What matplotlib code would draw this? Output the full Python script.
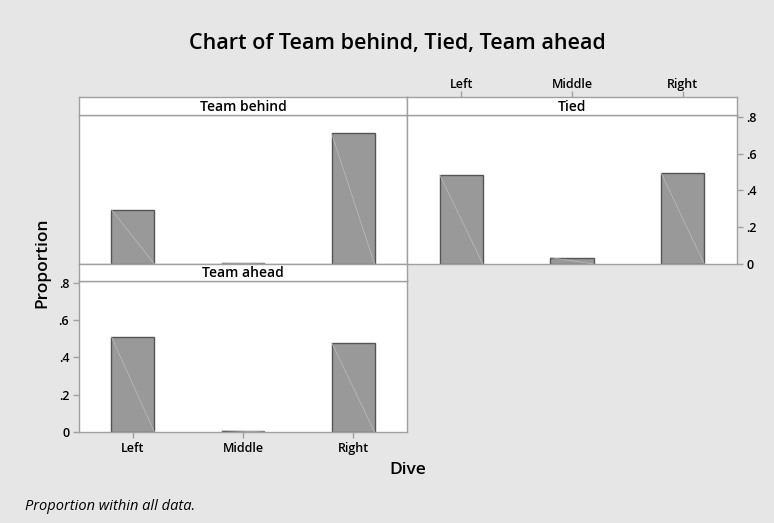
import numpy as np
import matplotlib.pyplot as plt

# Daten
categorias = ["Left", "Middle", "Right"]
paineis = ["Team behind", "Tied", "Team ahead"]
prop_behind = [0.295, 0.005, 0.71]
prop_tied = [0.485, 0.035, 0.495]
prop_ahead = [0.51, 0.008, 0.48]
yticks = [0, 0.2, 0.4, 0.6, 0.8]
ytick_labels = ["0", ".2", ".4", ".6", ".8"]

plt.rcParams['font.family'] = ['Open Sans', 'DejaVu Sans']

fundo = "#e6e6e6"
borda = "#a0a0a0"
cor_barra = "#999999"
cor_aresta = "#555555"

W, H = 774, 523
fig = plt.figure(figsize=(W / 100, H / 100), dpi=100, facecolor=fundo)

XLIM = (0.51, 3.49)


def caixa(x0, y0, x1, y1):
    # pixel -> fração da figura
    return [x0 / W, 1 - y1 / H, (x1 - x0) / W, (y1 - y0) / H]


def estilo_ticks(ax, pad=3):
    ax.tick_params(colors=borda, labelcolor="black", labelsize=9, length=4,
                   width=1.0, pad=pad)
    for lab in ax.get_xticklabels() + ax.get_yticklabels():
        lab.set_fontweight("semibold")


def painel(pos_plot, pos_strip, valores, titulo):
    ax = fig.add_axes(caixa(*pos_plot))
    x = np.arange(1, len(categorias) + 1)
    largura = 0.39
    ax.bar(x, valores, width=largura, color=cor_barra, edgecolor=cor_aresta,
           linewidth=1.0, zorder=2)
    # diagonal clara típica do Minitab
    for xi, v in zip(x, valores):
        ax.plot([xi - largura / 2, xi + largura / 2], [v, 0], color="#bdbdbd",
                linewidth=0.5, zorder=3)
    ax.set_xlim(*XLIM)
    ax.set_ylim(0, 0.81)
    ax.set_facecolor("white")
    for s in ax.spines.values():
        s.set_color(borda)
        s.set_linewidth(1.0)
    ax.set_xticks(x)
    ax.set_xticklabels(categorias)
    ax.set_yticks(yticks)
    ax.set_yticklabels(ytick_labels)
    estilo_ticks(ax)

    st = fig.add_axes(caixa(*pos_strip))
    st.set_facecolor("white")
    st.set_xlim(*XLIM)
    st.set_xticks([])
    st.set_yticks([])
    for s in st.spines.values():
        s.set_color(borda)
        s.set_linewidth(1.0)
    st.text(0.5, 0.45, titulo, ha="center", va="center", fontsize=10,
            fontweight="semibold", transform=st.transAxes)
    return ax, st


ax1, st1 = painel((79, 115, 407, 264), (79, 97, 407, 115), prop_behind, paineis[0])
ax1.tick_params(bottom=False, labelbottom=False, left=False, labelleft=False)

ax2, st2 = painel((407, 115, 737, 264), (407, 97, 737, 115), prop_tied, paineis[1])
ax2.tick_params(bottom=False, labelbottom=False, left=False, labelleft=False,
                right=True, labelright=True)
estilo_ticks(ax2)
# rótulos de categoria no topo do painel "Tied"
st2.set_xticks(np.arange(1, len(categorias) + 1))
st2.set_xticklabels(categorias)
st2.tick_params(bottom=False, labelbottom=False, top=True, labeltop=True)
estilo_ticks(st2, pad=0.5)

ax3, st3 = painel((79, 281, 407, 432), (79, 264, 407, 281), prop_ahead, paineis[2])

fig.text(397 / W, 1 - 43 / H, "Chart of Team behind, Tied, Team ahead",
         ha="center", va="center", fontsize=15.5, fontweight="semibold")
fig.text(42 / W, 1 - 263 / H, "Proportion", rotation=90, ha="center",
         va="center", fontsize=12.5, fontweight="semibold")
fig.text(408 / W, 1 - 470 / H, "Dive", ha="center", va="center",
         fontsize=12.5, fontweight="semibold")
fig.text(25 / W, 1 - 506 / H, "Proportion within all data.", ha="left",
         va="center", fontsize=10.5, style="italic")

fig.savefig("out.png", dpi=100, facecolor=fundo)
